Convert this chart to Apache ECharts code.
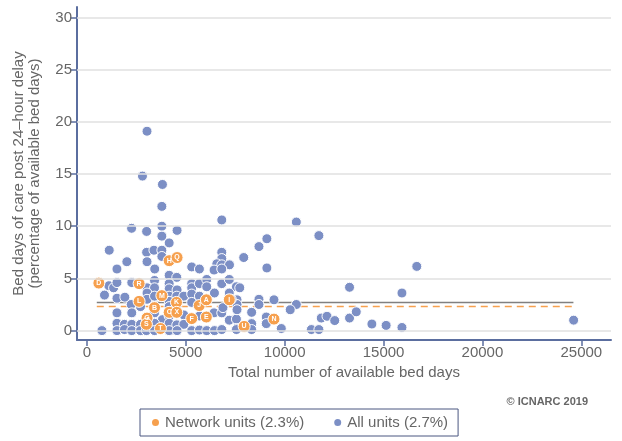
<!DOCTYPE html>
<html><head><meta charset="utf-8">
<script src="https://cdn.jsdelivr.net/npm/echarts@6/dist/echarts.min.js"></script>
<style>html,body{margin:0;padding:0;background:#fff}#c{width:622px;height:441px}</style>
</head><body><div id="c"></div>
<script>
// All units: total available bed days (x) and % bed days post 24-hour delay (y)
const allX = [3040,2810,3820,3790,2260,3020,3790,4560,3790,4160,6820,1130,3020,3390,3790,6820,6820,7930,2020,1520,3040,3790,3430,4160,4545,5300,5690,6570,6820,7210,6430,6820,
1110,1350,1520,890,2270,3040,3420,3420,4160,4160,4560,5300,5300,5690,6060,6060,6450,6820,7200,7560,
1520,1920,3040,3040,3420,4160,4545,4900,5300,5300,5690,2240,2710,4160,4160,4545,
1520,2270,3420,3820,4160,4545,4900,5690,6060,6430,6820,7200,7560,
1520,1900,2270,2710,3040,3420,4160,4545,4900,
760,1520,1900,2270,2710,3010,3420,4160,4560,5300,5690,6060,6450,6820,7560,
10590,11730,9100,8700,9100,16680,13280,15930,7590,7590,8700,8700,9460,10590,10280,8330,7590,9070,9070,11850,12140,12530,13280,13620,14410,15130,15930,11350,11730,9830,7560,8330,8330,7200,7300,24610,6880,7730];
const allY = [19.1,14.8,14.0,11.9,9.8,9.5,10.0,9.6,9.05,8.4,10.6,7.7,7.5,7.7,7.7,7.5,6.9,7.0,6.6,5.9,6.6,7.1,5.9,5.3,5.1,6.1,5.9,6.4,6.3,6.3,5.8,5.9,
4.3,4.1,4.6,3.4,4.6,4.1,4.8,4.1,4.5,4.0,3.9,4.5,4.1,4.5,4.9,4.2,3.6,4.5,4.9,4.2,
3.1,3.2,3.6,3.0,3.3,3.3,3.3,3.3,3.5,2.7,3.3,2.5,2.3,2.8,2.3,2.3,
1.7,1.7,1.7,1.05,1.4,1.7,1.5,1.4,1.4,1.7,1.7,1.0,1.1,
0.7,0.6,0.6,0.6,0.7,0.7,0.7,0.55,0.6,
0.0,0.0,0.1,0.0,0.0,0.0,0.0,0.0,0.0,0.0,0.05,0.0,0.0,0.1,0.2,
10.4,9.1,8.8,8.05,6.0,6.15,4.15,3.6,2.95,2.5,3.0,2.5,2.95,2.5,2.0,1.75,2.0,1.3,0.67,1.2,1.37,0.96,1.2,1.8,0.63,0.5,0.3,0.1,0.1,0.2,0.1,0.67,0.1,3.6,3.0,1.0,2.2,4.1];

// Network units
const netLabel = ["D","R","H","Q","L","M","B","K","C","X","G","S","T","J","A","F","E","I","U","N"];
const netX = [605,2640,4160,4560,2640,3790,3420,4530,4160,4545,3040,3010,3720,5680,6040,5300,6040,7200,7950,9460];
const netY = [4.55,4.5,6.7,7.0,2.8,3.35,2.2,2.7,1.75,1.75,1.2,0.6,0.2,2.4,2.95,1.15,1.3,2.95,0.4,1.1];

// Averages and their horizontal extent
const netMean = 2.3;
const allMean = 2.7;
const meanLineX = [500, 24600];

// Axis ticks
const xTicks = [0,5000,10000,15000,20000,25000];
const yTicks = [0,5,10,15,20,25,30];

const font = 'Liberation Sans, Arial, sans-serif';
const axisCol = '#5b6e9f';
const textCol = '#666666';
const blue = '#7c8fc5';
const orange = '#f6a04e';

const chart = echarts.init(document.getElementById('c'), null, {renderer:'canvas'});
chart.setOption({
  animation:false,
  textStyle:{fontFamily:font},
  grid:{left:77, right:11, top:7, bottom:101, containLabel:false},
  xAxis:{
    type:'value', min:-500, max:26500,
    name:'Total number of available bed days', nameLocation:'middle', nameGap:24,
    nameTextStyle:{color:textCol, fontSize:15, fontFamily:font},
    axisLine:{show:true, onZero:false, lineStyle:{color:axisCol, width:2}},
    axisTick:{show:true, customValues:xTicks, length:6, lineStyle:{color:axisCol, width:1.5}},
    axisLabel:{customValues:xTicks, formatter:v=>String(v), color:textCol, fontSize:15, margin:5, fontFamily:font},
    splitLine:{show:false}
  },
  yAxis:{
    type:'value', min:-0.9, max:31,
    name:'Bed days of care post 24–hour delay\n(percentage of available bed days)',
    nameLocation:'middle', nameGap:34,
    nameTextStyle:{color:textCol, fontSize:15, lineHeight:16, fontFamily:font},
    axisLine:{show:true, onZero:false, lineStyle:{color:axisCol, width:2}},
    axisTick:{show:true, customValues:yTicks, length:7, lineStyle:{color:axisCol, width:1.5}},
    axisLabel:{customValues:yTicks, formatter:v=>String(v), color:textCol, fontSize:15, margin:5, fontFamily:font},
    splitLine:{show:false}
  },
  legend:{
    left:140, top:409, orient:'horizontal',
    data:['Network units (2.3%)','All units (2.7%)'],
    icon:'circle', itemWidth:9, itemHeight:9, itemGap:28,
    borderColor:'#4a5680', borderWidth:1, padding:[6,10,6,10],
    textStyle:{color:textCol, fontSize:15, fontFamily:font}
  },
  graphic:[{
    type:'text', right:34, top:396,
    style:{text:'© ICNARC 2019', fill:'#666', font:'bold 11px '+font}
  }],
  series:[
    {
      type:'line', name:'grid', data:[], silent:true, z:1,
      markLine:{silent:true, symbol:['none','none'], label:{show:false},
        lineStyle:{color:'#e0e0e0', width:1.5, type:'solid'},
        data: yTicks.map(v=>({yAxis:v}))}
    },
    {
      type:'line', name:'allMean', data: meanLineX.map(x=>[x, allMean]),
      showSymbol:false, symbol:'none', silent:true, z:2,
      lineStyle:{color:'#808080', width:1.5}
    },
    {
      type:'line', name:'netMean', data: meanLineX.map(x=>[x, netMean]),
      showSymbol:false, symbol:'none', silent:true, z:2,
      lineStyle:{color:orange, width:1.5, type:[7,5]}
    },
    {
      type:'scatter', name:'All units (2.7%)', z:3,
      data: allX.map((x,i)=>[x, allY[i]]),
      symbolSize:10,
      itemStyle:{color:blue, borderColor:'#ffffff', borderWidth:1, opacity:1}
    },
    {
      type:'scatter', name:'Network units (2.3%)', z:4,
      data: netX.map((x,i)=>({value:[x, netY[i]], name:netLabel[i]})),
      symbolSize:12,
      itemStyle:{color:orange, borderColor:'#ffffff', borderWidth:1, opacity:1},
      label:{show:true, position:'inside', formatter:p=>p.name, color:'#fff', fontSize:7, fontWeight:'bold', fontFamily:font}
    }
  ]
});
</script>
</body></html>
